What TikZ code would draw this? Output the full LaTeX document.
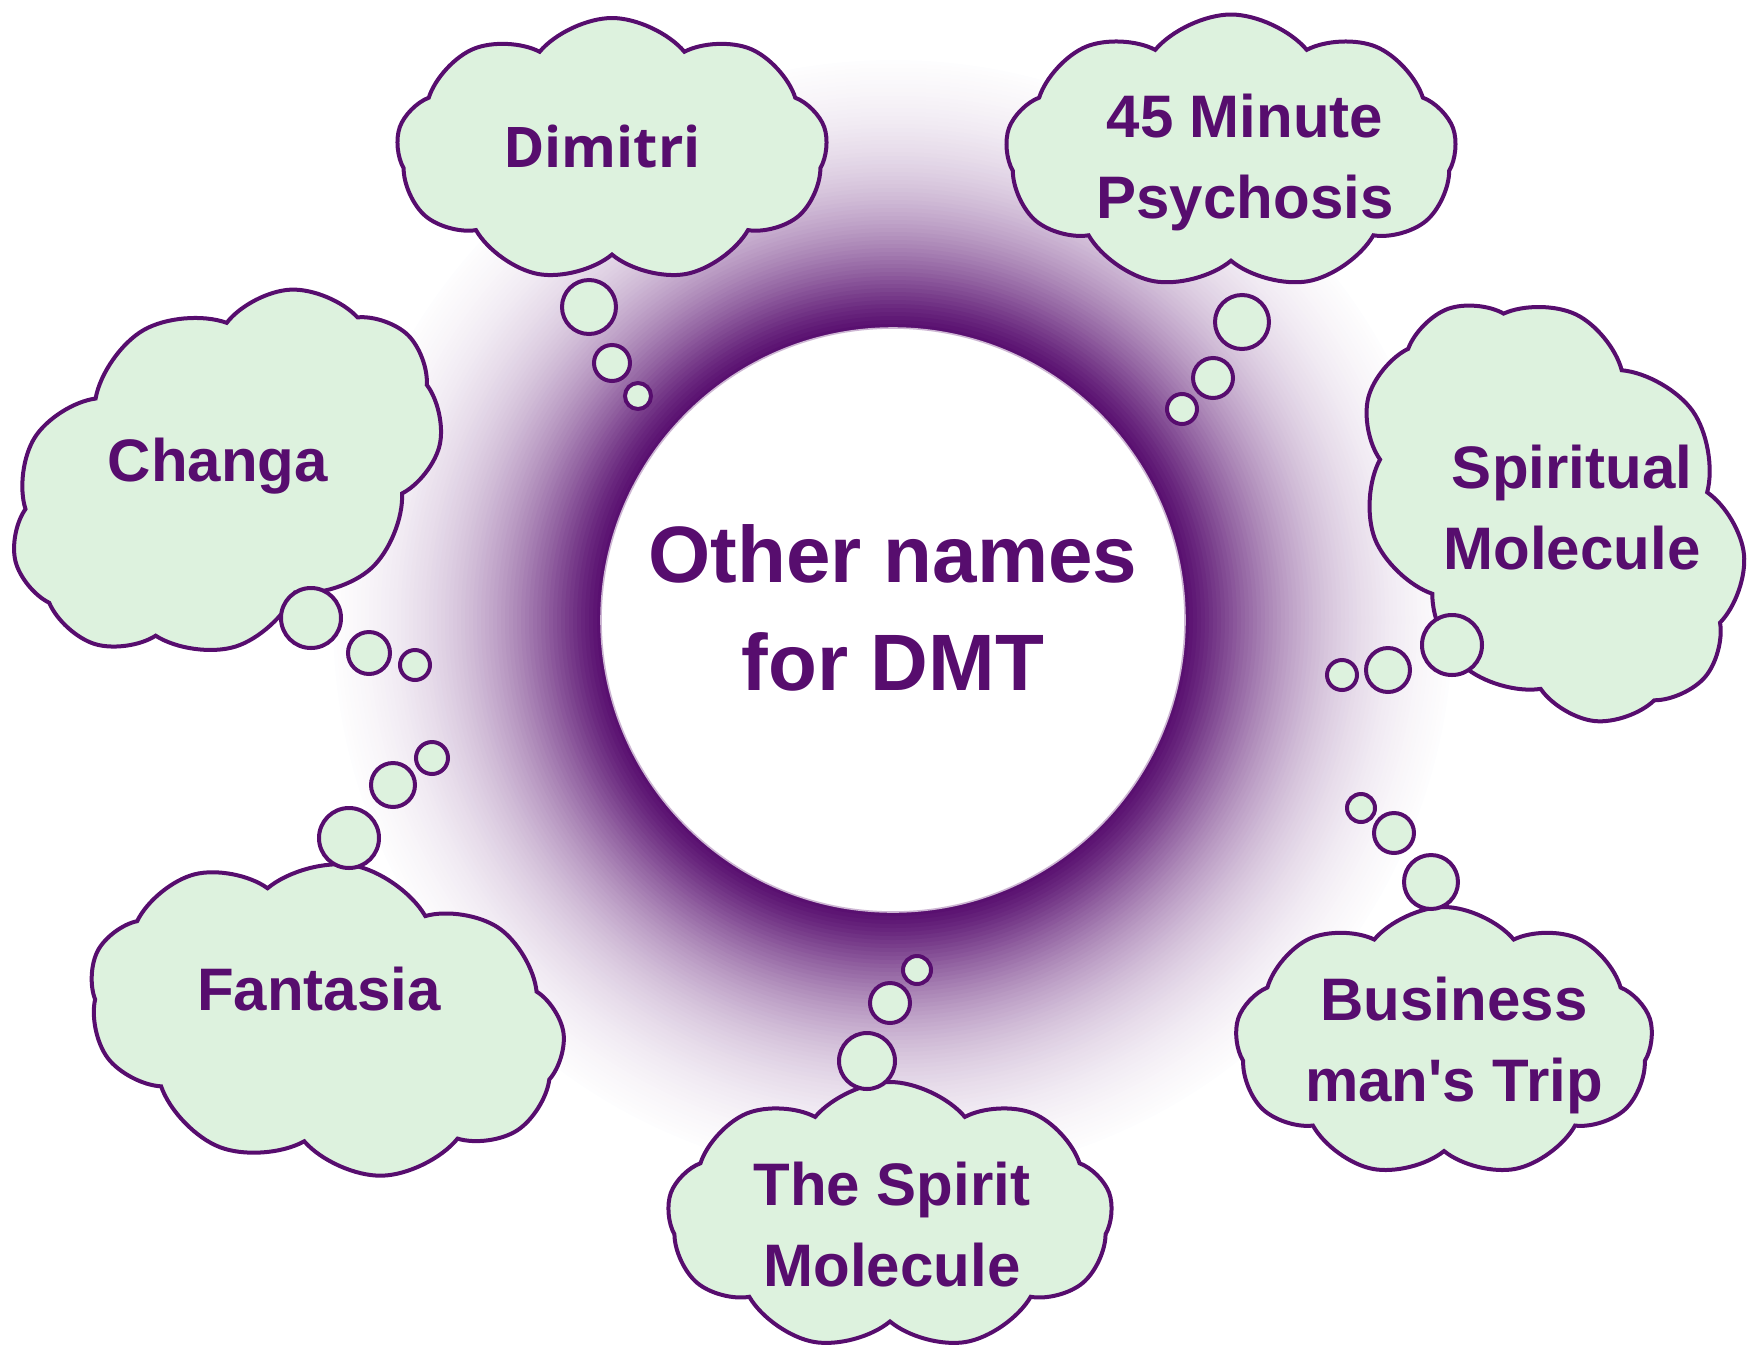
\documentclass[tikz,border=0pt]{standalone}
\usepackage{fontspec}
\setmainfont{Liberation Sans}[Ligatures=TeXOff]
\newfontfamily\opensans{Open Sans}
\usetikzlibrary{shapes.symbols}

\definecolor{dmtpurple}{RGB}{87,13,110}
\definecolor{cloudgreen}{RGB}{221,242,222}

\tikzset{
  cloudbox/.style={draw=dmtpurple, fill=cloudgreen, line width=2pt, cloud, cloud puffs=9, cloud puff arc=100, cloud ignores aspect, inner sep=0pt},
  bubble/.style={draw=dmtpurple, fill=cloudgreen, line width=2pt, circle, inner sep=0pt},
  nametext/.style={text=dmtpurple, font=\fontsize{30}{40.5}\selectfont\bfseries, align=center, inner sep=0pt}
}

\begin{document}
\begin{tikzpicture}[x=0.5pt, y=-0.5pt]
  \useasboundingbox (0,0) rectangle (1753,1356);
  \foreach \r in {560,556,...,296}{
      \pgfmathsetmacro\p{max(0,100*exp(-((\r-292)/115)^1.3)-4*(\r-292)/268)}
      \fill[dmtpurple!\p!white] (893,620) circle[radius=\r];
  }
  \node[circle, fill=white, draw=dmtpurple!30, line width=0.8pt, minimum size=292pt] (hub) at (893,620) {};
  \node[nametext, font=\fontsize{40}{54}\selectfont\bfseries] (hubtext) at (893,607.5) {Other names\\for DMT};

  \node[cloudbox, minimum width=215.5pt, minimum height=132pt] (dimitricloud) at (612,150) {};
  \node[cloudbox, minimum width=230pt, minimum height=165pt, rotate=30] (changacloud) at (226,473) {};
  \node[cloudbox, minimum width=225.5pt, minimum height=137.5pt] (minutecloud) at (1231,152) {};
  \node[cloudbox, minimum width=228pt, minimum height=172pt, rotate=-55] (spiritualcloud) at (1552,510) {};
  \node[cloudbox, minimum width=209pt, minimum height=135pt] (businesscloud) at (1444,1042) {};
  \node[cloudbox, minimum width=222.5pt, minimum height=134pt] (spiritcloud) at (890,1216) {};
  \node[cloudbox, minimum width=240pt, minimum height=155pt, rotate=-10] (fantasiacloud) at (326,1018) {};

  \foreach \x/\y/\r [count=\i] in {589/307/27, 612/363/18, 638/396/13,
                                   311/618/30, 369/653/21, 415/665/15,
                                   1242/322/27, 1213/378/20, 1182/409/15,
                                   1452/645/30, 1388/670/22, 1342/675/15,
                                   1431/882/27, 1394/833/20, 1361/808/14,
                                   867/1061/28, 890/1003/20, 917/970/14,
                                   349/838/30, 393/785/22, 432/758/16}{
      \node[bubble, minimum size=\r pt] (bubble\i) at (\x,\y) {};
  }

  \node[nametext, font=\fontsize{28}{38}\selectfont\opensans\bfseries] (dimitri) at (602,146) {Dimitri};
  \node[nametext] (changa) at (218,466) {Changa};
  \node[nametext] (minute) at (1245,162) {45 Minute\\Psychosis};
  \node[nametext] (spiritual) at (1572,508) {Spiritual\\Molecule};
  \node[nametext] (business) at (1454,1045) {Business\\man's Trip};
  \node[nametext] (spirit) at (892,1224.5) {The Spirit\\Molecule};
  \node[nametext] (fantasia) at (319,989) {Fantasia};
\end{tikzpicture}
\end{document}
